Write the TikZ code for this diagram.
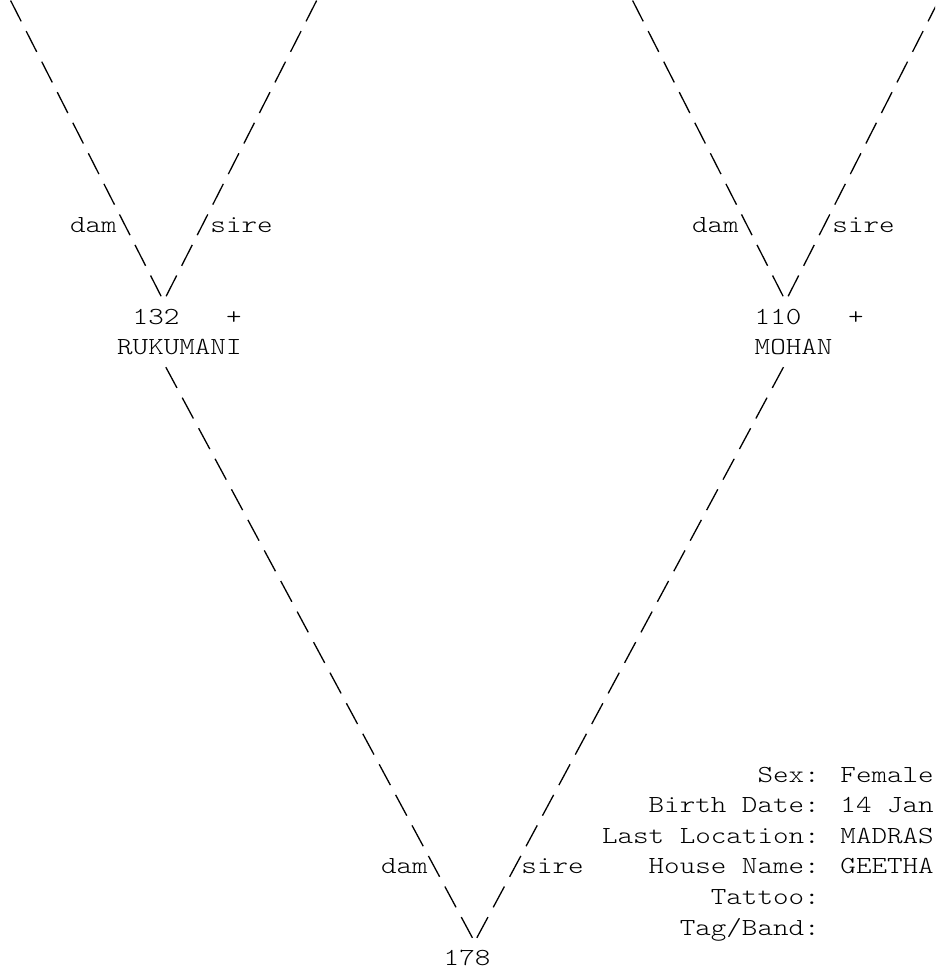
\documentclass[tikz,border=0pt]{standalone}
\usepackage{fontspec}
\newfontfamily\pedfont{lmmonolt10-regular.otf}[FakeStretch=1.209]
\newcommand\pedtext{\pedfont\fontsize{24.5}{30.55}\selectfont}

\begin{document}
\begin{tikzpicture}[
  x=15.55pt, y=-30.55pt,
  ped/.style={font=\pedtext,inner sep=0pt,anchor=base west},
  uplink/.style={line width=1.3pt,dash pattern=on 23.31pt off 10.97pt,
                 shorten <=-11.66pt,shorten >=-11.66pt},
  downlink/.style={line width=1.3pt,dash pattern=on 23.58pt off 11.10pt,
                 shorten <=-11.79pt,shorten >=-11.79pt}]
  \path[use as bounding box,fill=white] (-1.0225,-0.3584) rectangle (59.106,31.491);
  \clip (-1.0225,-0.3584) rectangle (59.106,31.491);
  % one unit = one character cell, one row of text
  \coordinate (rukdam) at (0,0);   \coordinate (ruksire) at (19,0);
  \coordinate (mohdam) at (40,0);  \coordinate (mohsire) at (59,0);
  \coordinate (ruk-d) at (9,9);    \coordinate (ruk-s) at (10,9);
  \coordinate (moh-d) at (49,9);   \coordinate (moh-s) at (50,9);
  \coordinate (ruk-out) at (10,12); \coordinate (moh-out) at (49,12);
  \coordinate (gee-d) at (29,30);  \coordinate (gee-s) at (30,30);
  \node[ped] (id132) at (7.5,10.25) {132\ \ \ +};
  \node[ped] (ruk) at (6.5,11.25) {RUKUMANI};
  \node[ped] (id110) at (47.5,10.25) {110\ \ \ +};
  \node[ped] (moh) at (47.5,11.25) {MOHAN};
  \node[ped] (id178) at (27.5,31.25) {178};
  \node[ped,anchor=base east] (rdam) at (6.5,7.25) {dam};
  \node[ped] (rsire) at (12.5,7.25) {sire};
  \node[ped,anchor=base east] (mdam) at (46.5,7.25) {dam};
  \node[ped] (msire) at (52.5,7.25) {sire};
  \node[ped,anchor=base east] (gdam) at (26.5,28.25) {dam};
  \node[ped] (gsire) at (32.5,28.25) {sire};
  \node[ped,anchor=base east] (info) at (59.04,25.25) {%
    \begin{tabular}[t]{@{}r@{ }l@{}}
      Sex:& Female\\
      Birth Date:& 14 Jan\\
      Last Location:& MADRAS\\
      House Name:& GEETHA\\
      Tattoo:& \\
      Tag/Band:&
    \end{tabular}};
  \draw[uplink] (rukdam) -- (ruk-d); \draw[uplink] (ruksire) -- (ruk-s);
  \draw[uplink] (mohdam) -- (moh-d); \draw[uplink] (mohsire) -- (moh-s);
  \draw[downlink] (ruk-out) -- (gee-d); \draw[downlink] (moh-out) -- (gee-s);
\end{tikzpicture}
\end{document}
